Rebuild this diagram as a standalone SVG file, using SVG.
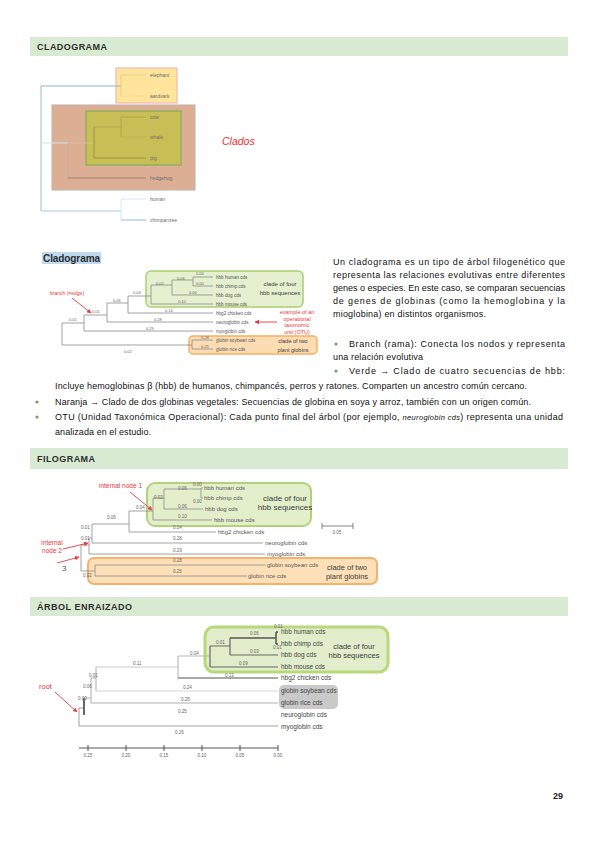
<svg xmlns="http://www.w3.org/2000/svg" width="599" height="848" viewBox="0 0 599 848">
<defs>
<marker id="ah" viewBox="0 0 10 10" refX="9" refY="5" markerWidth="5" markerHeight="5" orient="auto"><path d="M0,0 L10,5 L0,10 z" fill="#e8383d"/></marker>
<style>
.hdr{font-family:"Liberation Sans",Arial,sans-serif;font-weight:bold;font-size:9px;fill:#2e2e2e;letter-spacing:1px}
.bar{fill:#d9ead3}
.body{font-family:"Liberation Sans",Arial,sans-serif;font-size:9px;fill:#111}
.t1{font-family:"Liberation Sans",Arial,sans-serif;font-size:5px;fill:#6e6e6e}
.t2{font-family:"Liberation Sans",Arial,sans-serif;font-size:4.6px;fill:#555}
.n2{font-family:"Liberation Sans",Arial,sans-serif;font-size:4px;fill:#666}
.t3{font-family:"Liberation Sans",Arial,sans-serif;font-size:6px;fill:#555}
.n3{font-family:"Liberation Sans",Arial,sans-serif;font-size:4.5px;fill:#666}
.t4{font-family:"Liberation Sans",Arial,sans-serif;font-size:6.5px;fill:#444}
.red{font-family:"Liberation Sans",Arial,sans-serif;fill:#e8383d}
.cl{font-family:"Liberation Sans",Arial,sans-serif;fill:#3a3a3a;text-anchor:middle}
.ln{stroke:#8c8c8c;stroke-width:0.8;fill:none}
.ra{stroke:#e8383d;stroke-width:0.9;fill:none;marker-end:url(#ah)}
.dot{fill:#6aa84f}
</style>
</defs>
<rect width="599" height="848" fill="#ffffff"/>

<!-- Section headers -->
<g id="hdr-cladograma"><rect class="bar" x="30" y="37" width="538" height="19"/><text class="hdr" x="37" y="50" textLength="71">CLADOGRAMA</text></g>
<g id="hdr-filograma"><rect class="bar" x="30" y="448" width="538" height="21"/><text class="hdr" x="37" y="462" textLength="59">FILOGRAMA</text></g>
<g id="hdr-arbol"><rect class="bar" x="30" y="597" width="538" height="19"/><text class="hdr" x="37" y="610" textLength="96">ÁRBOL ENRAIZADO</text></g>

<!-- ===== Cladogram 1 ===== -->
<g id="clade-boxes-1">
<rect x="116" y="68" width="61" height="35" fill="#fee59b" stroke="#f2b8b5" stroke-width="1.2"/>
<rect x="52" y="105" width="143" height="85" fill="#dcaf95" stroke="#bdb2aa" stroke-width="1"/>
<rect x="86" y="111" width="95" height="54" fill="#c8be56" stroke="#86ad59" stroke-width="1.2"/>
</g>
<g id="connectors-1" fill="none">
<line x1="41" y1="86" x2="41" y2="211" stroke="#a8c8e0" stroke-width="1.2"/>
<line x1="41" y1="86" x2="121" y2="86" stroke="#8fb3d0" stroke-width="1"/>
<line x1="121" y1="75" x2="121" y2="96" stroke="#d8cc86" stroke-width="0.8"/>
<line x1="121" y1="75" x2="146" y2="75" stroke="#d8cc86" stroke-width="0.8"/>
<line x1="121" y1="96" x2="146" y2="96" stroke="#e2d59a" stroke-width="0.8" stroke-dasharray="2,1"/>
<line x1="41" y1="143" x2="68" y2="143" stroke="#cfe2f3" stroke-width="1"/>
<line x1="68" y1="143" x2="94" y2="143" stroke="#d8c0a8" stroke-width="0.8"/>
<line x1="68" y1="143" x2="68" y2="178" stroke="#c2ab9a" stroke-width="0.8"/>
<line x1="68" y1="178" x2="146" y2="178" stroke="#8c7b6e" stroke-width="0.8"/>
<line x1="94" y1="127" x2="94" y2="158" stroke="#8f8a3a" stroke-width="0.8"/>
<line x1="94" y1="158" x2="146" y2="158" stroke="#8f8a3a" stroke-width="0.8"/>
<line x1="94" y1="127" x2="121" y2="127" stroke="#a89f4a" stroke-width="0.8"/>
<line x1="121" y1="117" x2="121" y2="137" stroke="#a89f4a" stroke-width="0.8"/>
<line x1="121" y1="117" x2="146" y2="117" stroke="#a89f4a" stroke-width="0.8"/>
<line x1="121" y1="137" x2="146" y2="137" stroke="#b9af60" stroke-width="0.8"/>
<line x1="41" y1="211" x2="121" y2="211" stroke="#a8c8e0" stroke-width="1"/>
<line x1="121" y1="199" x2="121" y2="220" stroke="#cfe2f3" stroke-width="0.9"/>
<line x1="121" y1="199" x2="146" y2="199" stroke="#cfe2f3" stroke-width="0.9"/>
<line x1="121" y1="220" x2="146" y2="220" stroke="#8fb3d0" stroke-width="0.9"/>
</g>
<g id="leaves-1">
<text class="t1" x="150" y="77">elephant</text>
<text class="t1" x="150" y="98">aardvark</text>
<text class="t1" x="150" y="119">cow</text>
<text class="t1" x="150" y="139">whale</text>
<text class="t1" x="150" y="160">pig</text>
<text class="t1" x="150" y="180">hedgehog</text>
<text class="t1" x="150" y="201">human</text>
<text class="t1" x="150" y="222">chimpanzee</text>
</g>
<g id="label-clados"><text x="222" y="145" font-family="'Liberation Sans',Arial,sans-serif" font-style="italic" font-size="10.5" fill="#e8302f">Clados</text></g>

<!-- ===== Cladogram 2 ===== -->
<g id="title-cladograma2"><rect x="42" y="252" width="59" height="12" fill="#bfd9ef"/><text x="43" y="262" font-family="'Liberation Sans',Arial,sans-serif" font-weight="bold" font-size="10" fill="#2b2b2b" textLength="57">Cladograma</text></g>
<g id="clade-boxes-2">
<rect x="146" y="271" width="157" height="36" rx="5" fill="#e4f0cf" stroke="#a9d071" stroke-width="1.5"/>
<rect x="189" y="336" width="128" height="18" rx="4" fill="#fcdcb3" stroke="#f5b063" stroke-width="1.5"/>
<text class="cl" x="280" y="286" font-size="6">clade of four</text>
<text class="cl" x="280" y="295" font-size="6">hbb sequences</text>
<text class="cl" x="293" y="343" font-size="5.5">clade of two</text>
<text class="cl" x="293" y="352" font-size="5.5">plant globins</text>
</g>
<g id="connectors-2" class="ln">
<path d="M62,323V345 M62,323H84 M62,345H192 M192,340V349 M192,340H213 M192,349H213 M84,315V331 M84,331H213 M84,315H107 M107,303V322 M107,322H213 M107,303H128 M128,296V313 M128,313H213 M128,296H151 M151,285V304 M151,304H213 M151,285H172 M172,280V295 M172,295H213 M172,280H193 M193,277V286 M193,277H213 M193,286H213"/>
</g>
<g id="leaves-2">
<text class="t2" x="216" y="279">hbb human cds</text>
<text class="t2" x="216" y="288">hbb chimp cds</text>
<text class="t2" x="216" y="297">hbb dog cds</text>
<text class="t2" x="216" y="306">hbb mouse cds</text>
<text class="t2" x="216" y="315">hbg2 chicken cds</text>
<text class="t2" x="216" y="324">neuroglobin cds</text>
<text class="t2" x="216" y="333">myoglobin cds</text>
<text class="t2" x="216" y="342">globin soybean cds</text>
<text class="t2" x="216" y="351">globin rice cds</text>
</g>
<g id="branch-lengths-2">
<text class="n2" x="196" y="275">0.00</text>
<text class="n2" x="196" y="285">0.00</text>
<text class="n2" x="177" y="280">0.06</text>
<text class="n2" x="156" y="285">0.02</text>
<text class="n2" x="133" y="294">0.04</text>
<text class="n2" x="113" y="302">0.06</text>
<text class="n2" x="92" y="313">0.01</text>
<text class="n2" x="69" y="321">0.01</text>
<text class="n2" x="189" y="294">0.06</text>
<text class="n2" x="178" y="303">0.10</text>
<text class="n2" x="165" y="312">0.14</text>
<text class="n2" x="154" y="321">0.28</text>
<text class="n2" x="146" y="330">0.29</text>
<text class="n2" x="201" y="339">0.28</text>
<text class="n2" x="201" y="348">0.25</text>
<text class="n2" x="124" y="353">0.02</text>
</g>
<g id="annot-2">
<text class="red" x="50" y="295" font-size="5">branch (=edge)</text>
<line class="ra" x1="72" y1="298" x2="91" y2="313"/>
<text class="red" x="297" y="314" font-size="5.5" text-anchor="middle">example of an</text>
<text class="red" x="297" y="321" font-size="5.5" text-anchor="middle">operational</text>
<text class="red" x="297" y="327" font-size="5.5" text-anchor="middle">taxonomic</text>
<text class="red" x="297" y="334" font-size="5.5" text-anchor="middle">unit (OTU)</text>
<line class="ra" x1="277" y1="322" x2="255" y2="322"/>
</g>

<!-- ===== Body text ===== -->
<g id="paragraph" class="body">
<text x="333" y="265" textLength="232" lengthAdjust="spacing">Un cladograma es un tipo de árbol filogenético que</text>
<text x="333" y="278" textLength="232" lengthAdjust="spacing">representa las relaciones evolutivas entre diferentes</text>
<text x="333" y="291" textLength="232" lengthAdjust="spacing">genes o especies. En este caso, se comparan secuencias</text>
<text x="333" y="304" textLength="232" lengthAdjust="spacing">de genes de globinas (como la hemoglobina y la</text>
<text x="333" y="317" textLength="153" lengthAdjust="spacing">mioglobina) en distintos organismos.</text>
</g>
<g id="bullets" class="body">
<circle class="dot" cx="336" cy="344" r="1.6"/>
<text x="349" y="347" textLength="216" lengthAdjust="spacing">Branch (rama): Conecta los nodos y representa</text>
<text x="333" y="360" textLength="90" lengthAdjust="spacing">una relación evolutiva</text>
<circle class="dot" cx="336" cy="371" r="1.6"/>
<text x="349" y="374" textLength="216" lengthAdjust="spacing">Verde → Clado de cuatro secuencias de hbb:</text>
<text x="55" y="389" textLength="472" lengthAdjust="spacing">Incluye hemoglobinas β (hbb) de humanos, chimpancés, perros y ratones. Comparten un ancestro común cercano.</text>
<circle class="dot" cx="37" cy="402" r="1.6"/>
<text x="55" y="405" textLength="476" lengthAdjust="spacing">Naranja → Clado de dos globinas vegetales: Secuencias de globina en soya y arroz, también con un origen común.</text>
<circle class="dot" cx="37" cy="417" r="1.6"/>
<text x="55" y="420" textLength="508" lengthAdjust="spacing">OTU (Unidad Taxonómica Operacional): Cada punto final del árbol (por ejemplo, <tspan font-style="italic" font-size="7.5">neuroglobin cds</tspan>) representa una unidad</text>
<text x="55" y="435" textLength="96" lengthAdjust="spacing">analizada en el estudio.</text>
</g>

<!-- ===== Filograma ===== -->
<g id="clade-boxes-3">
<rect x="147" y="483" width="164" height="43" rx="8" fill="#e3efcb" stroke="#b0d37a" stroke-width="2"/>
<rect x="88" y="558" width="289" height="26" rx="6" fill="#fde0b8" stroke="#f6b26b" stroke-width="2"/>
<text class="cl" x="285" y="501" font-size="8">clade of four</text>
<text class="cl" x="285" y="510" font-size="8">hbb sequences</text>
<text class="cl" x="347" y="570" font-size="7.5">clade of two</text>
<text class="cl" x="347" y="579" font-size="7.5">plant globins</text>
</g>
<g id="connectors-3" class="ln" stroke-width="0.9">
<path d="M81,545V571 M81,545H89 M89,538V554 M89,554H265 M89,538H92 M92,524V543 M92,543H263 M92,524H129 M129,511V532 M129,532H216 M129,511H153 M153,498V520 M153,520H212 M153,498H164 M164,489V509 M164,509H203 M164,489H201 M201,488V498 M201,488H203 M201,498H203 M81,571H95 M95,565V576 M95,565H266 M95,576H247"/>
</g>
<g id="leaves-3">
<text class="t3" x="204" y="490">hbb human cds</text>
<text class="t3" x="204" y="500">hbb chimp cds</text>
<text class="t3" x="205" y="511">hbb dog cds</text>
<text class="t3" x="214" y="522">hbb mouse cds</text>
<text class="t3" x="218" y="534">hbg2 chicken cds</text>
<text class="t3" x="265" y="545">neuroglobin cds</text>
<text class="t3" x="267" y="556">myoglobin cds</text>
<text class="t3" x="267" y="567">globin soybean cds</text>
<text class="t3" x="248" y="578">globin rice cds</text>
</g>
<g id="branch-lengths-3">
<text class="n3" x="193" y="486">0.00</text>
<text class="n3" x="193" y="503">0.00</text>
<text class="n3" x="178" y="490">0.06</text>
<text class="n3" x="154" y="499">0.02</text>
<text class="n3" x="178" y="508">0.06</text>
<text class="n3" x="136" y="509">0.04</text>
<text class="n3" x="178" y="518">0.10</text>
<text class="n3" x="107" y="519">0.06</text>
<text class="n3" x="173" y="529">0.14</text>
<text class="n3" x="81" y="529">0.01</text>
<text class="n3" x="173" y="540">0.28</text>
<text class="n3" x="81" y="540">0.01</text>
<text class="n3" x="173" y="552">0.29</text>
<text class="n3" x="173" y="562">0.28</text>
<text class="n3" x="173" y="573">0.25</text>
<text class="n3" x="83" y="577">0.02</text>
</g>
<g id="scale-bar-3">
<path d="M322,526H353 M322,523V529 M353,523V529" stroke="#666" stroke-width="0.8" fill="none"/>
<text class="n3" x="337" y="534" text-anchor="middle">0.05</text>
</g>
<g id="annot-3">
<text class="red" x="99" y="488" font-size="6.5">internal node 1</text>
<line class="ra" x1="130" y1="492" x2="152" y2="510"/>
<text class="red" x="52" y="545" font-size="6.5" text-anchor="middle">internal</text>
<text class="red" x="52" y="553" font-size="6.5" text-anchor="middle">node 2</text>
<line class="ra" x1="63" y1="549" x2="88" y2="543"/>
<text x="62" y="571" font-family="'Liberation Sans',Arial,sans-serif" font-size="8" fill="#555">3</text>
<line class="ra" x1="57" y1="563" x2="79" y2="557"/>
</g>

<!-- ===== Árbol enraizado ===== -->
<g id="clade-boxes-4">
<rect x="205" y="627" width="183" height="45" rx="9" fill="#e2edcb" stroke="#b7d97a" stroke-width="3"/>
<rect x="279" y="685" width="59" height="24" rx="5" fill="#c9c9c9"/>
<text class="cl" x="354" y="649" font-size="7.5">clade of four</text>
<text class="cl" x="354" y="658" font-size="7.5">hbb sequences</text>
</g>
<g id="connectors-4" fill="none">
<path d="M79,708V726 M79,726H278 M79,708H84" stroke="#8c8c8c" stroke-width="0.8"/>
<path d="M84,698V715" stroke="#555" stroke-width="1.8"/>
<path d="M84,698H91 M91,678V703 M91,703H278" stroke="#999" stroke-width="0.8"/>
<path d="M91,678H96 M96,667V691" stroke="#999" stroke-width="0.8"/>
<path d="M96,691H278" stroke="#cccccc" stroke-width="0.8"/>
<path d="M96,667H178" stroke="#bbb" stroke-width="0.8"/>
<path d="M178,656V678" stroke="#999" stroke-width="0.8"/>
<path d="M178,678H278" stroke="#555" stroke-width="1.1"/>
<path d="M178,656H210" stroke="#aaa" stroke-width="0.8"/>
<path d="M210,646V667 M210,667H278 M210,646H230 M230,638V655 M230,655H278" stroke="#666" stroke-width="1.2"/>
<path d="M230,638H276 M276,632V644 M276,632H278 M276,644H278" stroke="#555" stroke-width="1.5"/>
</g>
<g id="leaves-4">
<text class="t4" x="281" y="634">hbb human cds</text>
<text class="t4" x="281" y="646">hbb chimp cds</text>
<text class="t4" x="281" y="657">hbb dog cds</text>
<text class="t4" x="281" y="669">hbb mouse cds</text>
<text class="t4" x="281" y="680">hbg2 chicken cds</text>
<text class="t4" x="281" y="693">globin soybean cds</text>
<text class="t4" x="281" y="705">globin rice cds</text>
<text class="t4" x="281" y="717">neuroglobin cds</text>
<text class="t4" x="281" y="729">myoglobin cds</text>
</g>
<g id="branch-lengths-4">
<text class="n3" x="274" y="628">0.01</text>
<text class="n3" x="250" y="635">0.06</text>
<text class="n3" x="216" y="644">0.01</text>
<text class="n3" x="250" y="653">0.03</text>
<text class="n3" x="273" y="649">0.01</text>
<text class="n3" x="190" y="655">0.04</text>
<text class="n3" x="239" y="665">0.09</text>
<text class="n3" x="133" y="665">0.11</text>
<text class="n3" x="225" y="677">0.13</text>
<text class="n3" x="89" y="677" fill="#6d8fb0">0.01</text>
<text class="n3" x="183" y="689">0.24</text>
<text class="n3" x="83" y="688">0.06</text>
<text class="n3" x="181" y="701">0.25</text>
<text class="n3" x="78" y="700">0.00</text>
<text class="n3" x="178" y="713">0.25</text>
<text class="n3" x="175" y="734">0.26</text>
</g>
<g id="axis-4">
<path d="M79,748H278 M88,745V751 M126,745V751 M164,745V751 M202,745V751 M240,745V751 M278,745V751" stroke="#444" stroke-width="0.9" fill="none"/>
<text class="n3" x="88" y="757" text-anchor="middle">0.25</text>
<text class="n3" x="126" y="757" text-anchor="middle">0.20</text>
<text class="n3" x="164" y="757" text-anchor="middle">0.15</text>
<text class="n3" x="202" y="757" text-anchor="middle">0.10</text>
<text class="n3" x="240" y="757" text-anchor="middle">0.05</text>
<text class="n3" x="278" y="757" text-anchor="middle">0.00</text>
</g>
<g id="annot-4">
<text class="red" x="39" y="689" font-size="7.5">root</text>
<line class="ra" x1="55" y1="692" x2="77" y2="712"/>
</g>

<g id="page-number"><text x="553" y="799" font-family="'Liberation Sans',Arial,sans-serif" font-weight="bold" font-size="9" fill="#222">29</text></g>
</svg>
